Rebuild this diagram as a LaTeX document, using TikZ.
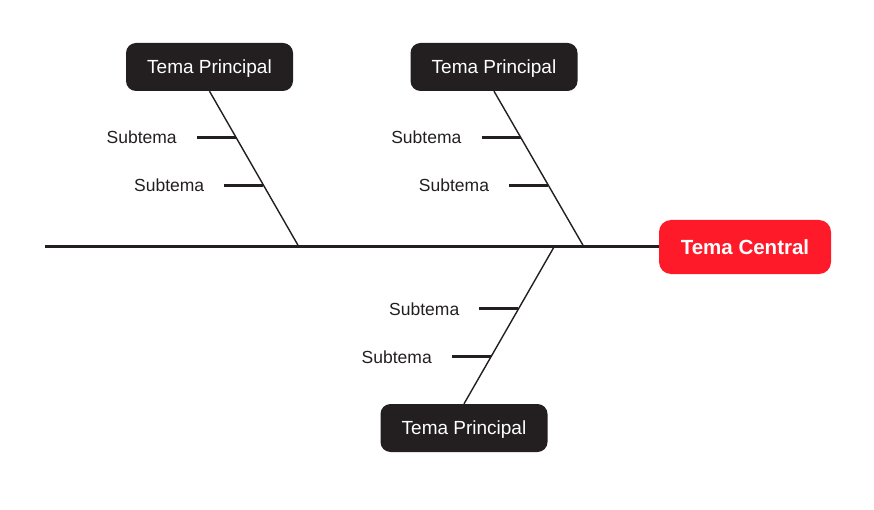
\documentclass[tikz,border=0pt]{standalone}
\usepackage{fontspec}
\setmainfont{Liberation Sans}
\usetikzlibrary{calc}
\definecolor{darkbox}{HTML}{231F20}
\definecolor{redbox}{HTML}{FF1A2A}
\tikzset{
  principal/.style={fill=darkbox, text=white, rounded corners=10pt, minimum width=167pt, minimum height=48pt, inner sep=0pt, text height=13.6pt, text depth=0pt, font=\fontsize{19}{22}\selectfont},
  central/.style={fill=redbox, text=white, rounded corners=12pt, minimum width=172pt, minimum height=54pt, inner sep=0pt, text height=14.7pt, text depth=0pt, font=\bfseries\fontsize{20.5}{24}\selectfont},
  spine/.style={line width=3pt, draw=darkbox},
  bone/.style={line width=1.4pt, draw=darkbox},
  tick/.style={line width=3pt, draw=darkbox},
  sublabel/.style={anchor=east, inner sep=0pt, text height=12.5pt, text depth=0pt, font=\fontsize{17.5}{20}\selectfont, text=darkbox}
}
\begin{document}
\begin{tikzpicture}[x=1pt,y=-1pt]
\useasboundingbox (0,0) rectangle (874,510);
% nodes
\node[central] (C) at (745,247) {Tema Central};
\node[principal] (P1) at (209.5,67) {Tema Principal};
\node[principal] (P2) at (494,67) {Tema Principal};
\node[principal] (P3) at (464,428) {Tema Principal};
\coordinate (S0) at (45,247);
\coordinate (J1) at (299,247);
\coordinate (J2) at (584,247);
\coordinate (J3) at (554,247);
% spine
\draw[spine] (S0) -- (C.west);
% bones
\draw[bone] (P1.south) -- (J1);
\draw[bone] (P2.south) -- (J2);
\draw[bone] (P3.north) -- (J3);
% ticks on bone 1
\coordinate (B1a) at ($(P1.south)!{(137-91)/156}!(J1)$);
\coordinate (B1b) at ($(P1.south)!{(185-91)/156}!(J1)$);
\coordinate (E1a) at ($(B1a)+(-39,0)$);
\coordinate (E1b) at ($(B1b)+(-39,0)$);
\draw[tick] (B1a) -- (E1a);
\draw[tick] (B1b) -- (E1b);
\node[sublabel] (L1a) at ($(E1a)+(-20,0)$) {Subtema};
\node[sublabel] (L1b) at ($(E1b)+(-20,0)$) {Subtema};
% ticks on bone 2
\coordinate (B2a) at ($(P2.south)!{(137-91)/156}!(J2)$);
\coordinate (B2b) at ($(P2.south)!{(185-91)/156}!(J2)$);
\coordinate (E2a) at ($(B2a)+(-39,0)$);
\coordinate (E2b) at ($(B2b)+(-39,0)$);
\draw[tick] (B2a) -- (E2a);
\draw[tick] (B2b) -- (E2b);
\node[sublabel] (L2a) at ($(E2a)+(-20,0)$) {Subtema};
\node[sublabel] (L2b) at ($(E2b)+(-20,0)$) {Subtema};
% ticks on bone 3
\coordinate (B3a) at ($(J3)!{(309-247)/157}!(P3.north)$);
\coordinate (B3b) at ($(J3)!{(357-247)/157}!(P3.north)$);
\coordinate (E3a) at ($(B3a)+(-39,0)$);
\coordinate (E3b) at ($(B3b)+(-39,0)$);
\draw[tick] (B3a) -- (E3a);
\draw[tick] (B3b) -- (E3b);
\node[sublabel] (L3a) at ($(E3a)+(-20,0)$) {Subtema};
\node[sublabel] (L3b) at ($(E3b)+(-20,0)$) {Subtema};
\end{tikzpicture}
\end{document}
